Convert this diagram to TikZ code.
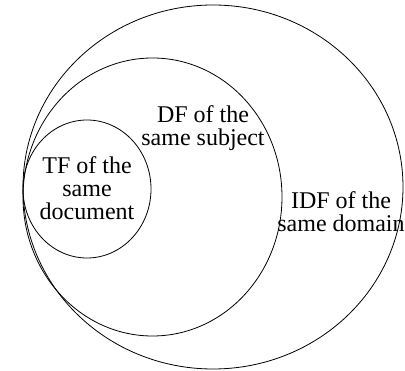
\documentclass[tikz,border=0pt]{standalone}
\usepackage{fontspec}
\setmainfont{Liberation Serif}
\usetikzlibrary{positioning, shapes.geometric}

\tikzset{
  set/.style={draw, ellipse, inner sep=0pt, line width=0.8pt},
  label/.style={align=center, inner sep=0pt, font=\fontsize{24}{23}\selectfont}
}

\begin{document}
\begin{tikzpicture}[x=1pt, y=-1pt]
            \useasboundingbox (0, 0) rectangle (405, 371);
            \node[set, minimum width=380pt, minimum height=364pt] (domain) at (213, 187) {};
            \node[set, minimum width=259pt, minimum height=278pt] (subject) at (152.5, 197) {};
            \node[set, minimum width=128pt, minimum height=138pt] (document) at (87, 189) {};

            \node[label] (documenttext) at (87, 188) {TF of the\\same\\document};
            \node[label] (subjecttext) at (203, 128) {DF of the\\same subject};
            \node[label] (domaintext) at (341, 212) {IDF of the\\same domain};
        \end{tikzpicture}
\end{document}
